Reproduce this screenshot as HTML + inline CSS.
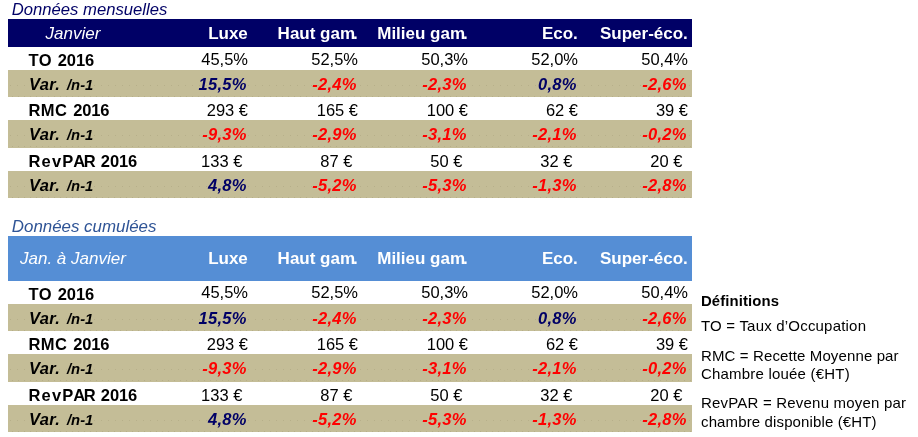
<!DOCTYPE html>
<html lang="fr"><head><meta charset="utf-8"><title>Données mensuelles</title>
<style>
html,body{margin:0;padding:0;background:#fff;}
body{width:918px;height:437px;position:relative;overflow:hidden;font-family:"Liberation Sans",Arial,sans-serif;}
.bg{position:absolute;}
.bg i{position:absolute;left:0;width:100%;height:1px;}
.d1{top:15px;background:repeating-linear-gradient(90deg,rgba(90,80,40,.12) 0 1px,transparent 1px 7px);background-position:2px 0;}
.d2{top:26px;background:repeating-linear-gradient(90deg,rgba(90,80,40,.12) 0 1px,transparent 1px 6px);background-position:4px 0;}
.t{position:absolute;white-space:nowrap;font-size:16.5px;line-height:20px;height:20px;color:#000;}
.t::before{content:"";display:inline-block;height:20px;vertical-align:baseline;}
.title{font-style:italic;font-size:16.5px;}
.hl{font-style:italic;color:#fff;font-size:17px;}
.hc{font-weight:bold;color:#fff;font-size:17px;}
.hc i{font-style:normal;margin-left:-2px;}
.lb{font-weight:bold;letter-spacing:0.35px;}
.lv{font-weight:bold;font-style:italic;letter-spacing:0.35px;}
.sm{font-size:14.8px;margin-left:2px;letter-spacing:0;}
.lb b{letter-spacing:-0.15px;}
.lb b.m{margin-left:1px;}
.lb u{text-decoration:none;letter-spacing:1.1px;}
.lb u.p{letter-spacing:0;}
.lb u.a{letter-spacing:-1.45px;}
.v{font-weight:bold;font-style:italic;letter-spacing:0.3px;}
.pos{color:#000066;}
.neg{color:#ff0000;}
.d{font-size:15px;letter-spacing:0.2px;}
.b{font-weight:bold;font-size:14.9px;letter-spacing:0.1px;}
</style></head><body>
<div class="t title" style="left:11.8px;top:-5.1px;color:#000066;font-size:16.65px">Données mensuelles</div>
<div class="bg" style="left:8px;top:19px;width:684px;height:28px;background:#000066"></div>
<div class="t hl" style="left:45.5px;top:19.0px">Janvier</div>
<div class="t hc" style="right:670.2px;top:19.0px">Luxe</div>
<div class="t hc" style="right:560.2px;top:19.0px">Haut gam<i>.</i></div>
<div class="t hc" style="right:450.2px;top:19.0px">Milieu gam<i>.</i></div>
<div class="t hc" style="right:340.2px;top:19.0px">Eco.</div>
<div class="t hc" style="right:230.2px;top:19.0px">Super-éco.</div>
<div class="t lb" style="left:28.6px;top:45.6px">TO <b class="m">2016</b></div>
<div class="t n" style="right:670.0px;top:44.7px">45,5%</div>
<div class="t n" style="right:560.0px;top:44.7px">52,5%</div>
<div class="t n" style="right:450.0px;top:44.7px">50,3%</div>
<div class="t n" style="right:340.0px;top:44.7px">52,0%</div>
<div class="t n" style="right:230.0px;top:44.7px">50,4%</div>
<div class="bg" style="left:8px;top:70px;width:684px;height:27px;background:#c4bd97"><i class="d1"></i><i class="d2"></i></div>
<div class="t lv" style="left:29px;top:69.6px">Var. <span class="sm">/n-1</span></div>
<div class="t v pos" style="right:671.2px;top:69.6px">15,5%</div>
<div class="t v neg" style="right:561.2px;top:69.6px">-2,4%</div>
<div class="t v neg" style="right:451.2px;top:69.6px">-2,3%</div>
<div class="t v pos" style="right:341.2px;top:69.6px">0,8%</div>
<div class="t v neg" style="right:231.2px;top:69.6px">-2,6%</div>
<div class="t lb" style="left:28.6px;top:95.6px">RMC <b class="m">2016</b></div>
<div class="t n" style="right:670.0px;top:95.6px">293 €</div>
<div class="t n" style="right:560.0px;top:95.6px">165 €</div>
<div class="t n" style="right:450.0px;top:95.6px">100 €</div>
<div class="t n" style="right:340.0px;top:95.6px">62 €</div>
<div class="t n" style="right:230.0px;top:95.6px">39 €</div>
<div class="bg" style="left:8px;top:120px;width:684px;height:28px;background:#c4bd97"><i class="d1"></i><i class="d2"></i></div>
<div class="t lv" style="left:29px;top:119.6px">Var. <span class="sm">/n-1</span></div>
<div class="t v neg" style="right:671.2px;top:119.6px">-9,3%</div>
<div class="t v neg" style="right:561.2px;top:119.6px">-2,9%</div>
<div class="t v neg" style="right:451.2px;top:119.6px">-3,1%</div>
<div class="t v neg" style="right:341.2px;top:119.6px">-2,1%</div>
<div class="t v neg" style="right:231.2px;top:119.6px">-0,2%</div>
<div class="t lb" style="left:28.6px;top:146.7px"><u>Rev</u><u class="p">P</u><u class="a">A</u>R <b>2016</b></div>
<div class="t n" style="right:675.6px;top:146.7px">133 €</div>
<div class="t n" style="right:565.6px;top:146.7px">87 €</div>
<div class="t n" style="right:455.6px;top:146.7px">50 €</div>
<div class="t n" style="right:345.6px;top:146.7px">32 €</div>
<div class="t n" style="right:235.6px;top:146.7px">20 €</div>
<div class="bg" style="left:8px;top:171px;width:684px;height:27px;background:#c4bd97"><i class="d1"></i><i class="d2"></i></div>
<div class="t lv" style="left:29px;top:170.5px">Var. <span class="sm">/n-1</span></div>
<div class="t v pos" style="right:671.2px;top:170.5px">4,8%</div>
<div class="t v neg" style="right:561.2px;top:170.5px">-5,2%</div>
<div class="t v neg" style="right:451.2px;top:170.5px">-5,3%</div>
<div class="t v neg" style="right:341.2px;top:170.5px">-1,3%</div>
<div class="t v neg" style="right:231.2px;top:170.5px">-2,8%</div>
<div class="t title" style="left:11.8px;top:211.5px;color:#2f5496;font-size:16.9px">Données cumulées</div>
<div class="bg" style="left:8px;top:236px;width:684px;height:45px;background:#558ed5"></div>
<div class="t hl" style="left:20px;top:244.2px">Jan. à Janvier</div>
<div class="t hc" style="right:670.2px;top:243.5px">Luxe</div>
<div class="t hc" style="right:560.2px;top:243.5px">Haut gam<i>.</i></div>
<div class="t hc" style="right:450.2px;top:243.5px">Milieu gam<i>.</i></div>
<div class="t hc" style="right:340.2px;top:243.5px">Eco.</div>
<div class="t hc" style="right:230.2px;top:243.5px">Super-éco.</div>
<div class="t lb" style="left:28.6px;top:279.6px">TO <b class="m">2016</b></div>
<div class="t n" style="right:670.0px;top:277.8px">45,5%</div>
<div class="t n" style="right:560.0px;top:277.8px">52,5%</div>
<div class="t n" style="right:450.0px;top:277.8px">50,3%</div>
<div class="t n" style="right:340.0px;top:277.8px">52,0%</div>
<div class="t n" style="right:230.0px;top:277.8px">50,4%</div>
<div class="bg" style="left:8px;top:304px;width:684px;height:27px;background:#c4bd97"><i class="d1"></i><i class="d2"></i></div>
<div class="t lv" style="left:29px;top:303.6px">Var. <span class="sm">/n-1</span></div>
<div class="t v pos" style="right:671.2px;top:303.6px">15,5%</div>
<div class="t v neg" style="right:561.2px;top:303.6px">-2,4%</div>
<div class="t v neg" style="right:451.2px;top:303.6px">-2,3%</div>
<div class="t v pos" style="right:341.2px;top:303.6px">0,8%</div>
<div class="t v neg" style="right:231.2px;top:303.6px">-2,6%</div>
<div class="t lb" style="left:28.6px;top:329.6px">RMC <b class="m">2016</b></div>
<div class="t n" style="right:670.0px;top:329.6px">293 €</div>
<div class="t n" style="right:560.0px;top:329.6px">165 €</div>
<div class="t n" style="right:450.0px;top:329.6px">100 €</div>
<div class="t n" style="right:340.0px;top:329.6px">62 €</div>
<div class="t n" style="right:230.0px;top:329.6px">39 €</div>
<div class="bg" style="left:8px;top:354px;width:684px;height:28px;background:#c4bd97"><i class="d1"></i><i class="d2"></i></div>
<div class="t lv" style="left:29px;top:353.6px">Var. <span class="sm">/n-1</span></div>
<div class="t v neg" style="right:671.2px;top:353.6px">-9,3%</div>
<div class="t v neg" style="right:561.2px;top:353.6px">-2,9%</div>
<div class="t v neg" style="right:451.2px;top:353.6px">-3,1%</div>
<div class="t v neg" style="right:341.2px;top:353.6px">-2,1%</div>
<div class="t v neg" style="right:231.2px;top:353.6px">-0,2%</div>
<div class="t lb" style="left:28.6px;top:380.7px"><u>Rev</u><u class="p">P</u><u class="a">A</u>R <b>2016</b></div>
<div class="t n" style="right:675.6px;top:380.7px">133 €</div>
<div class="t n" style="right:565.6px;top:380.7px">87 €</div>
<div class="t n" style="right:455.6px;top:380.7px">50 €</div>
<div class="t n" style="right:345.6px;top:380.7px">32 €</div>
<div class="t n" style="right:235.6px;top:380.7px">20 €</div>
<div class="bg" style="left:8px;top:405px;width:684px;height:27px;background:#c4bd97"><i class="d1"></i><i class="d2"></i></div>
<div class="t lv" style="left:29px;top:404.5px">Var. <span class="sm">/n-1</span></div>
<div class="t v pos" style="right:671.2px;top:404.5px">4,8%</div>
<div class="t v neg" style="right:561.2px;top:404.5px">-5,2%</div>
<div class="t v neg" style="right:451.2px;top:404.5px">-5,3%</div>
<div class="t v neg" style="right:341.2px;top:404.5px">-1,3%</div>
<div class="t v neg" style="right:231.2px;top:404.5px">-2,8%</div>
<div class="t d b" style="left:701px;top:285.8px">Définitions</div>
<div class="t d" style="left:701px;top:310.9px">TO = Taux d’Occupation</div>
<div class="t d" style="left:701px;top:340.5px;letter-spacing:0.12px">RMC = Recette Moyenne par</div>
<div class="t d" style="left:701px;top:358.9px">Chambre louée (€HT)</div>
<div class="t d" style="left:701px;top:388.4px">RevPAR = Revenu moyen par</div>
<div class="t d" style="left:701px;top:406.9px;letter-spacing:0.13px">chambre disponible (€HT)</div>
</body></html>
